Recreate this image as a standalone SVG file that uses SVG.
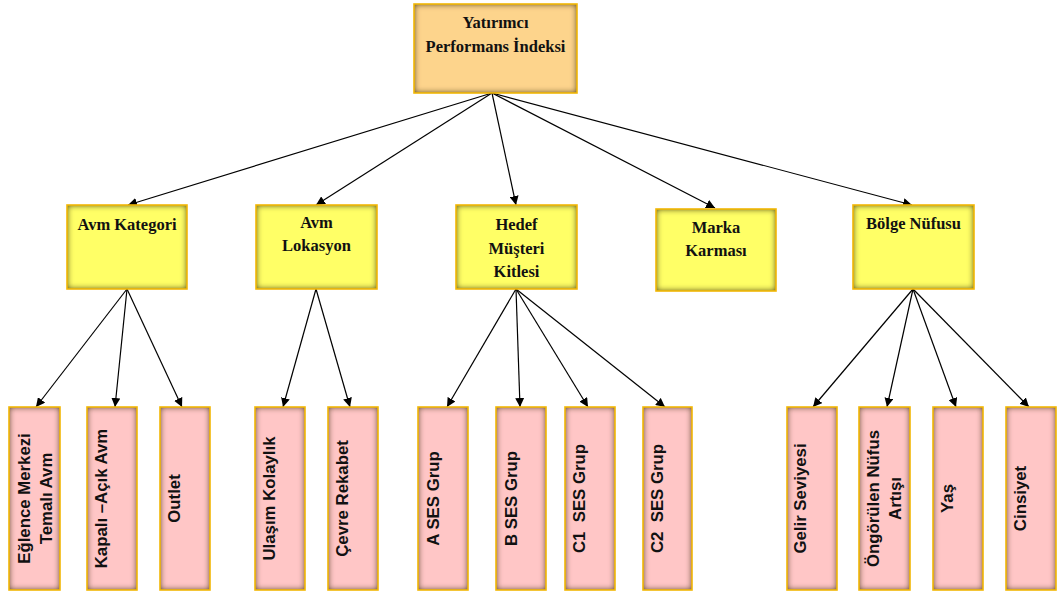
<svg xmlns="http://www.w3.org/2000/svg" width="1058" height="596" viewBox="0 0 1058 596">
  <defs>
    <!-- soft dark rim inside each box -->
    <filter id="inset" x="-20%" y="-20%" width="140%" height="140%" color-interpolation-filters="sRGB">
      <feFlood flood-color="#2a1e00" flood-opacity="0.85" result="f"/>
      <feComposite in="f" in2="SourceAlpha" operator="out" result="outside"/>
      <feGaussianBlur in="outside" stdDeviation="3" result="blur"/>
      <feComposite in="blur" in2="SourceAlpha" operator="in" result="rim"/>
      <feMerge>
        <feMergeNode in="SourceGraphic"/>
        <feMergeNode in="rim"/>
      </feMerge>
    </filter>
    <marker id="arrow" viewBox="0 0 10 10" refX="10" refY="5" markerWidth="9" markerHeight="9" markerUnits="userSpaceOnUse" orient="auto">
      <path d="M0,0 L10,5 L0,10 z" fill="#000"/>
    </marker>
  </defs>
  <style>
    .edge { fill: none; stroke: #F2B705; stroke-width: 1.6; }
    .top { fill: #FDD48C; }
    .mid { fill: #FFFF66; }
    .leaf { fill: #FFC6C6; }
    .serif { font-family: "Liberation Serif", "Times New Roman", serif; font-weight: bold; font-size: 16.5px; fill: #111; text-anchor: middle; }
    .sans { font-family: "Liberation Sans", Arial, sans-serif; font-weight: bold; font-size: 16.8px; fill: #111; text-anchor: middle; }
    .link { fill: none; stroke: #000; stroke-width: 1.2; marker-end: url(#arrow); }
  </style>

  <rect width="1058" height="596" fill="#fff"/>

  <!-- connectors -->
  <g id="connectors">
    <line class="link" x1="492" y1="93" x2="128" y2="205"/>
    <line class="link" x1="492" y1="93" x2="316" y2="205"/>
    <line class="link" x1="492" y1="93" x2="516" y2="205"/>
    <line class="link" x1="492" y1="93" x2="715" y2="208"/>
    <line class="link" x1="492" y1="93" x2="912" y2="205"/>

    <line class="link" x1="127" y1="289" x2="36" y2="407"/>
    <line class="link" x1="127" y1="289" x2="115" y2="407"/>
    <line class="link" x1="127" y1="289" x2="182" y2="407"/>

    <line class="link" x1="316" y1="289" x2="283" y2="407"/>
    <line class="link" x1="316" y1="289" x2="350" y2="407"/>

    <line class="link" x1="516" y1="289" x2="447" y2="407"/>
    <line class="link" x1="516" y1="289" x2="520" y2="407"/>
    <line class="link" x1="516" y1="289" x2="588" y2="407"/>
    <line class="link" x1="516" y1="289" x2="665" y2="407"/>

    <line class="link" x1="913" y1="289" x2="813" y2="407"/>
    <line class="link" x1="913" y1="289" x2="887" y2="407"/>
    <line class="link" x1="913" y1="289" x2="956" y2="407"/>
    <line class="link" x1="913" y1="289" x2="1029" y2="407"/>
  </g>

  <!-- root -->
  <g id="root">
    <rect class="top" filter="url(#inset)" x="414" y="4" width="163" height="89"/>
    <rect class="edge" x="414" y="4" width="163" height="89"/>
    <text class="serif" x="495.5" y="28" font-size="17">Yatırımcı</text>
    <text class="serif" x="495.5" y="52" font-size="17">Performans İndeksi</text>
  </g>

  <!-- second level -->
  <g id="avm-kategori">
    <rect class="mid" filter="url(#inset)" x="67" y="205" width="120" height="84"/>
    <rect class="edge" x="67" y="205" width="120" height="84"/>
    <text class="serif" x="127" y="230">Avm Kategori</text>
  </g>
  <g id="avm-lokasyon">
    <rect class="mid" filter="url(#inset)" x="256" y="205" width="121" height="84"/>
    <rect class="edge" x="256" y="205" width="121" height="84"/>
    <text class="serif" x="316.5" y="228">Avm</text>
    <text class="serif" x="316.5" y="251">Lokasyon</text>
  </g>
  <g id="hedef-musteri">
    <rect class="mid" filter="url(#inset)" x="456" y="205" width="121" height="84"/>
    <rect class="edge" x="456" y="205" width="121" height="84"/>
    <text class="serif" x="516.5" y="230">Hedef</text>
    <text class="serif" x="516.5" y="254">Müşteri</text>
    <text class="serif" x="516.5" y="277">Kitlesi</text>
  </g>
  <g id="marka-karmasi">
    <rect class="mid" filter="url(#inset)" x="656" y="209" width="120" height="82"/>
    <rect class="edge" x="656" y="209" width="120" height="82"/>
    <text class="serif" x="716" y="233">Marka</text>
    <text class="serif" x="716" y="256">Karması</text>
  </g>
  <g id="bolge-nufusu">
    <rect class="mid" filter="url(#inset)" x="853" y="205" width="121" height="84"/>
    <rect class="edge" x="853" y="205" width="121" height="84"/>
    <text class="serif" x="913.5" y="229">Bölge Nüfusu</text>
  </g>

  <!-- leaves -->
  <g id="eglence">
    <rect class="leaf" filter="url(#inset)" x="9" y="407" width="51" height="183"/>
    <rect class="edge" x="9" y="407" width="51" height="183"/>
    <text class="sans" transform="translate(30,498.5) rotate(-90)">Eğlence Merkezi</text>
    <text class="sans" transform="translate(51.5,498.5) rotate(-90)">Temalı Avm</text>
  </g>
  <g id="kapali-acik">
    <rect class="leaf" filter="url(#inset)" x="87" y="407" width="50" height="183"/>
    <rect class="edge" x="87" y="407" width="50" height="183"/>
    <text class="sans" transform="translate(107,498.5) rotate(-90)">Kapalı –Açık Avm</text>
  </g>
  <g id="outlet">
    <rect class="leaf" filter="url(#inset)" x="160" y="407" width="50" height="183"/>
    <rect class="edge" x="160" y="407" width="50" height="183"/>
    <text class="sans" transform="translate(180,498.5) rotate(-90)">Outlet</text>
  </g>
  <g id="ulasim">
    <rect class="leaf" filter="url(#inset)" x="255" y="407" width="50" height="183"/>
    <rect class="edge" x="255" y="407" width="50" height="183"/>
    <text class="sans" transform="translate(275,498.5) rotate(-90)">Ulaşım Kolaylık</text>
  </g>
  <g id="cevre">
    <rect class="leaf" filter="url(#inset)" x="328" y="407" width="50" height="183"/>
    <rect class="edge" x="328" y="407" width="50" height="183"/>
    <text class="sans" transform="translate(348,498.5) rotate(-90)">Çevre Rekabet</text>
  </g>
  <g id="a-ses">
    <rect class="leaf" filter="url(#inset)" x="418" y="407" width="50" height="183"/>
    <rect class="edge" x="418" y="407" width="50" height="183"/>
    <text class="sans" transform="translate(439,498.5) rotate(-90)">A SES Grup</text>
  </g>
  <g id="b-ses">
    <rect class="leaf" filter="url(#inset)" x="496" y="407" width="50" height="183"/>
    <rect class="edge" x="496" y="407" width="50" height="183"/>
    <text class="sans" transform="translate(517,498.5) rotate(-90)">B SES Grup</text>
  </g>
  <g id="c1-ses">
    <rect class="leaf" filter="url(#inset)" x="565" y="407" width="50" height="183"/>
    <rect class="edge" x="565" y="407" width="50" height="183"/>
    <text class="sans" transform="translate(585,498.5) rotate(-90)">C1&#160; SES Grup</text>
  </g>
  <g id="c2-ses">
    <rect class="leaf" filter="url(#inset)" x="643" y="407" width="49" height="183"/>
    <rect class="edge" x="643" y="407" width="49" height="183"/>
    <text class="sans" transform="translate(663,498.5) rotate(-90)">C2&#160; SES Grup</text>
  </g>
  <g id="gelir">
    <rect class="leaf" filter="url(#inset)" x="787" y="407" width="50" height="183"/>
    <rect class="edge" x="787" y="407" width="50" height="183"/>
    <text class="sans" transform="translate(806,498.5) rotate(-90)">Gelir Seviyesi</text>
  </g>
  <g id="ongorulen">
    <rect class="leaf" filter="url(#inset)" x="859" y="407" width="51" height="183"/>
    <rect class="edge" x="859" y="407" width="51" height="183"/>
    <text class="sans" transform="translate(879,498.5) rotate(-90)">Öngörülen Nüfus</text>
    <text class="sans" transform="translate(901,498.5) rotate(-90)">Artışı</text>
  </g>
  <g id="yas">
    <rect class="leaf" filter="url(#inset)" x="933" y="407" width="50" height="183"/>
    <rect class="edge" x="933" y="407" width="50" height="183"/>
    <text class="sans" transform="translate(953,498.5) rotate(-90)">Yaş</text>
  </g>
  <g id="cinsiyet">
    <rect class="leaf" filter="url(#inset)" x="1006" y="407" width="50" height="183"/>
    <rect class="edge" x="1006" y="407" width="50" height="183"/>
    <text class="sans" transform="translate(1026,498.5) rotate(-90)">Cinsiyet</text>
  </g>
</svg>
